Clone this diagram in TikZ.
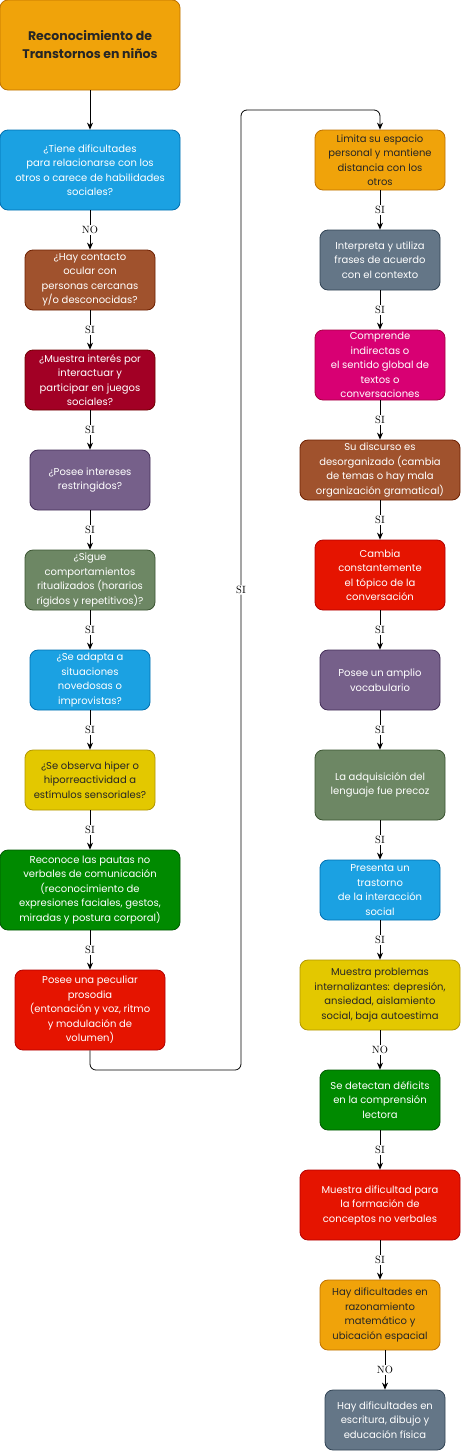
\documentclass[tikz,border=0pt]{standalone}
\usepackage{fontspec}
\newfontfamily\boxfont{Poppins}
\usetikzlibrary{arrows.meta}

\definecolor{orfill}{HTML}{F0A30A}\definecolor{ordraw}{HTML}{BD7000}
\definecolor{blfill}{HTML}{1BA1E2}\definecolor{bldraw}{HTML}{006EAF}
\definecolor{brfill}{HTML}{A0522D}\definecolor{brdraw}{HTML}{6D1F00}
\definecolor{crfill}{HTML}{A20025}\definecolor{crdraw}{HTML}{6F0000}
\definecolor{pufill}{HTML}{76608A}\definecolor{pudraw}{HTML}{432D57}
\definecolor{olfill}{HTML}{6D8764}\definecolor{oldraw}{HTML}{3A5431}
\definecolor{yefill}{HTML}{E3C800}\definecolor{yedraw}{HTML}{B09500}
\definecolor{grfill}{HTML}{008A00}\definecolor{grdraw}{HTML}{005700}
\definecolor{rdfill}{HTML}{E51400}\definecolor{rddraw}{HTML}{B20000}
\definecolor{mafill}{HTML}{D80073}\definecolor{madraw}{HTML}{A50040}
\definecolor{slfill}{HTML}{647687}\definecolor{sldraw}{HTML}{314354}

\tikzset{
  box/.style={rectangle, rounded corners=8pt, draw, line width=0.8pt, align=center,
    inner sep=0pt, text=white, font=\boxfont\fontsize{10}{14.5}\selectfont},
  orbox/.style={box, fill=orfill, draw=ordraw, text=black!85},
  blbox/.style={box, fill=blfill, draw=bldraw},
  brbox/.style={box, fill=brfill, draw=brdraw},
  crbox/.style={box, fill=crfill, draw=crdraw},
  pubox/.style={box, fill=pufill, draw=pudraw},
  olbox/.style={box, fill=olfill, draw=oldraw},
  yebox/.style={box, fill=yefill, draw=yedraw, text=black!85},
  grbox/.style={box, fill=grfill, draw=grdraw},
  rdbox/.style={box, fill=rdfill, draw=rddraw},
  mabox/.style={box, fill=mafill, draw=madraw},
  slbox/.style={box, fill=slfill, draw=sldraw},
  wh/.style args={#1x#2}{minimum width=#1pt, minimum height=#2pt},
  flow/.style={draw, line width=0.8pt, -{Stealth[length=7pt,width=6pt]}},
  lab/.style={fill=white, inner sep=1pt, font=\fontsize{10.5}{12}\selectfont}
}

\begin{document}
\begin{tikzpicture}[x=1pt, y=-1pt]
	\useasboundingbox (0,0) rectangle (461,1454);

	% left column
	\node[orbox, wh=180x90, font=\boxfont\fontsize{12.5}{18}\selectfont\bfseries] (t) at (90,45) {Reconocimiento de\\Transtornos en niños};
	\node[blbox, wh=180x80] (q1) at (90,170) {¿Tiene dificultades\\para relacionarse con los\\otros o carece de habilidades\\sociales?};
	\node[brbox, wh=130x60] (q2) at (90,280) {¿Hay contacto\\ocular con\\personas cercanas\\y/o desconocidas?};
	\node[crbox, wh=130x60] (q3) at (90,380) {¿Muestra interés por\\interactuar y\\participar en juegos\\sociales?};
	\node[pubox, wh=120x60] (q4) at (90,480) {¿Posee intereses\\restringidos?};
	\node[olbox, wh=130x60] (q5) at (90,580) {¿Sigue\\comportamientos\\ritualizados (horarios\\rígidos y repetitivos)?};
	\node[blbox, wh=120x60] (q6) at (90,680) {¿Se adapta a\\situaciones\\novedosas o\\improvistas?};
	\node[yebox, wh=130x60] (q7) at (90,780) {¿Se observa hiper o\\hiporreactividad a\\estímulos sensoriales?};
	\node[grbox, wh=180x80] (q8) at (90,890) {Reconoce las pautas no\\verbales de comunicación\\(reconocimiento de\\expresiones faciales, gestos,\\miradas y postura corporal)};
	\node[rdbox, wh=150x80] (q9) at (90,1010) {Posee una peculiar\\prosodia\\(entonación y voz, ritmo\\y modulación de\\volumen)};

	% right column
	\node[orbox, wh=130x60] (r1) at (380,160) {Limita su espacio\\personal y mantiene\\distancia con los\\otros};
	\node[slbox, wh=120x60] (r2) at (380,260) {Interpreta y utiliza\\frases de acuerdo\\con el contexto};
	\node[mabox, wh=130x70] (r3) at (380,365) {Comprende\\indirectas o\\el sentido global de\\textos o\\conversaciones};
	\node[brbox, wh=160x60] (r4) at (380,470) {Su discurso es\\desorganizado (cambia\\de temas o hay mala\\organización gramatical)};
	\node[rdbox, wh=130x70] (r5) at (380,575) {Cambia\\constantemente\\el tópico de la\\conversación};
	\node[pubox, wh=120x60] (r6) at (380,680) {Posee un amplio\\vocabulario};
	\node[olbox, wh=130x70] (r7) at (380,785) {La adquisición del\\lenguaje fue precoz};
	\node[blbox, wh=120x60] (r8) at (380,890) {Presenta un\\trastorno\\de la interacción\\social};
	\node[yebox, wh=160x70] (r9) at (380,995) {Muestra problemas\\internalizantes: depresión,\\ansiedad, aislamiento\\social, baja autoestima};
	\node[grbox, wh=120x60] (r10) at (380,1100) {Se detectan déficits\\en la comprensión\\lectora};
	\node[rdbox, wh=160x70] (r11) at (380,1205) {Muestra dificultad para\\la formación de\\conceptos no verbales};
	\node[orbox, wh=120x70] (r12) at (380,1315) {Hay dificultades en\\razonamiento\\matemático y\\ubicación espacial};
	\node[slbox, wh=120x60] (r13) at (385,1420) {Hay dificultades en\\escritura, dibujo y\\educación física};

	\coordinate (loopb) at (241,1070);
	\coordinate (loopt) at (241,110);

	\draw[flow] (t) -- (q1);
	\draw[flow] (q1) -- node[lab] {NO} (q2);
	\foreach \a/\b in {q2/q3, q3/q4, q4/q5, q5/q6, q6/q7, q7/q8, q8/q9}
		\draw[flow] (\a) -- node[lab] {SI} (\b);
	\draw[flow, rounded corners=6pt] (q9.south) |- (loopb) -- node[lab] {SI} (loopt) -| (r1.north);
	\foreach \a/\b in {r1/r2, r2/r3, r3/r4, r4/r5, r5/r6, r6/r7, r7/r8, r8/r9, r10/r11, r11/r12}
		\draw[flow] (\a) -- node[lab] {SI} (\b);
	\draw[flow] (r9) -- node[lab] {NO} (r10);
	\draw[flow] (r12.south -| r13) -- node[lab] {NO} (r13);
\end{tikzpicture}
\end{document}
